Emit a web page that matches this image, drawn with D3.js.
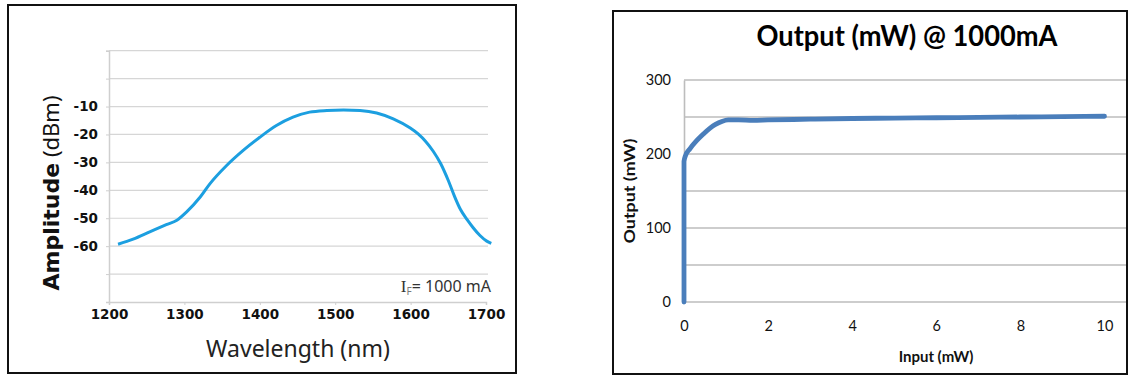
<!DOCTYPE html>
<html><head><meta charset="utf-8">
<script src="https://cdn.jsdelivr.net/npm/d3@7"></script>
<style>
html,body{margin:0;padding:0;background:#fff;}
svg{display:block;}
</style></head>
<body>
<svg id="chart" width="1134" height="379"></svg>
<script>
// ---- Left chart data: spectrum ----
const wavelength = [1212, 1232, 1254, 1276, 1290, 1303, 1321, 1334, 1356, 1378, 1400, 1422, 1444, 1466, 1489, 1511, 1533, 1555, 1577, 1599, 1610, 1620, 1630, 1640, 1650, 1658, 1666, 1675, 1683, 1692, 1701, 1707];
const amplitude = [-59.3, -57.5, -54.9, -52.3, -50.7, -47.7, -42.4, -37.6, -31.1, -25.7, -21.0, -16.8, -13.8, -12.0, -11.4, -11.2, -11.4, -12.3, -14.4, -17.6, -19.8, -22.5, -26.0, -30.5, -36.5, -42.0, -46.8, -50.5, -53.4, -56.2, -58.2, -59.0];
const wlTicks = [1200, 1300, 1400, 1500, 1600, 1700];
const ampTicks = [10, 0, -10, -20, -30, -40, -50, -60, -70, -80];
const ampTickLabels = ["", "", "-10", "-20", "-30", "-40", "-50", "-60", "", ""];

// ---- Right chart data: output vs input ----
const inputMW = [0, 0, 0.03, 0.14, 0.3, 0.46, 0.62, 0.75, 0.9, 1.05, 1.3, 1.64, 2, 3, 4, 5, 6, 7, 8, 9, 10];
const outputMW = [0, 190, 197, 207, 218, 227, 235, 240, 244, 246, 246, 245.5, 246, 247, 248, 248.5, 249, 249.5, 250, 250.5, 251];
const inTicks = [0, 2, 4, 6, 8, 10];
const outTicks = [0, 50, 100, 150, 200, 250, 300];
const outTickLabels = ["0", "", "100", "", "200", "", "300"];

const svg = d3.select("#chart");

// ================= LEFT PANEL =================
svg.append("rect").attr("x", 8).attr("y", 5).attr("width", 508).attr("height", 368)
  .attr("fill", "#fff").attr("stroke", "#111").attr("stroke-width", 2);

const xL = d3.scaleLinear().domain([1200, 1700]).range([109, 486]);
const yL = d3.scaleLinear().domain([-80, 10]).range([302, 50.7]);
const L = svg.append("g");

// gridlines
L.append("g").selectAll("line").data(ampTicks.filter(d => d > -80)).join("line")
  .attr("x1", xL(1200)).attr("x2", 488)
  .attr("y1", d => yL(d)).attr("y2", d => yL(d))
  .attr("stroke", "#d6d6d6").attr("stroke-width", 1.2);

// y axis
const yAxisL = d3.axisLeft(yL).tickValues(ampTicks).tickSize(3).tickPadding(8)
  .tickFormat((d, i) => ampTickLabels[i]);
const gyL = L.append("g").attr("transform", `translate(${xL(1200)},0)`).call(yAxisL);
gyL.select(".domain").attr("stroke", "#cfcfcf").attr("stroke-width", 1.5);
gyL.selectAll(".tick line").attr("stroke", "#cfcfcf");
gyL.selectAll(".tick text").attr("font-family", "DejaVu Sans").attr("font-weight", "bold")
  .attr("font-size", 13.5).attr("fill", "#111");

// x axis
const xAxisL = d3.axisBottom(xL).tickValues(wlTicks).tickSize(3).tickPadding(4).tickFormat(d3.format("d"));
const gxL = L.append("g").attr("transform", `translate(0,${yL(-80)})`).call(xAxisL);
gxL.select(".domain").attr("stroke", "#cfcfcf").attr("stroke-width", 1.5);
gxL.selectAll(".tick line").attr("stroke", "#cfcfcf");
gxL.selectAll(".tick text").attr("font-family", "DejaVu Sans").attr("font-weight", "bold")
  .attr("font-size", 13.5).attr("fill", "#111");

// curve
const lineL = d3.line().x((d, i) => xL(wavelength[i])).y((d, i) => yL(amplitude[i])).curve(d3.curveMonotoneX);
L.append("path").datum(amplitude).attr("d", lineL)
  .attr("fill", "none").attr("stroke", "#1c9fe0").attr("stroke-width", 3).attr("stroke-linejoin", "round");

// annotation
const ann = L.append("text").attr("x", 491).attr("y", 292).attr("text-anchor", "end")
  .attr("font-family", "Noto Sans").attr("font-size", 16).attr("fill", "#333");
ann.append("tspan").attr("font-family", "Liberation Serif").attr("font-size", 17).text("I");
ann.append("tspan").attr("font-size", 10).attr("dy", 3).attr("fill", "#777").text("F");
ann.append("tspan").attr("dy", -3).text("= 1000 mA");

// axis titles
L.append("text").attr("x", 298).attr("y", 357).attr("text-anchor", "middle")
  .attr("font-family", "Noto Sans").attr("font-size", 23).attr("fill", "#222")
  .text("Wavelength (nm)");
const yt = L.append("text").attr("transform", "translate(59,193) rotate(-90)").attr("text-anchor", "middle")
  .attr("fill", "#111");
yt.append("tspan").attr("font-family", "DejaVu Sans").attr("font-weight", "bold").attr("font-size", 22)
  .text("Amplitude");
yt.append("tspan").attr("font-family", "Noto Sans").attr("font-size", 22).text(" (dBm)");

// ================= RIGHT PANEL =================
svg.append("rect").attr("x", 613).attr("y", 11).attr("width", 514).attr("height", 363)
  .attr("fill", "#fff").attr("stroke", "#111").attr("stroke-width", 2);

const xR = d3.scaleLinear().domain([0, 10]).range([684, 1104.5]);
const yR = d3.scaleLinear().domain([0, 300]).range([302, 80]);
const R = svg.append("g");

R.append("g").selectAll("line").data(outTicks).join("line")
  .attr("x1", xR(0)).attr("x2", 1126)
  .attr("y1", d => yR(d)).attr("y2", d => yR(d))
  .attr("stroke", "#bdbdbd").attr("stroke-width", 1.6);

const yAxisR = d3.axisLeft(yR).tickValues(outTicks).tickSize(0).tickPadding(13)
  .tickFormat((d, i) => outTickLabels[i]);
const gyR = R.append("g").attr("transform", `translate(${xR(0)},0)`).call(yAxisR);
gyR.select(".domain").attr("stroke", "#bdbdbd").attr("stroke-width", 1.6);
gyR.selectAll(".tick text").attr("font-family", "Lato").attr("font-size", 14.5).attr("fill", "#111");

const xAxisR = d3.axisBottom(xR).tickValues(inTicks).tickSize(0).tickPadding(19).tickFormat(d3.format("d"));
const gxR = R.append("g").attr("transform", `translate(0,${yR(0)})`).call(xAxisR);
gxR.select(".domain").remove();
gxR.selectAll(".tick text").attr("font-family", "Lato").attr("font-size", 14.5).attr("fill", "#111");

const lineR = d3.line().x((d, i) => xR(inputMW[i])).y((d, i) => yR(outputMW[i])).curve(d3.curveMonotoneX);
R.append("path").datum(outputMW).attr("d", lineR)
  .attr("fill", "none").attr("stroke", "#4a7ebb").attr("stroke-width", 4.8)
  .attr("stroke-linejoin", "round").attr("stroke-linecap", "round");

R.append("text").attr("x", 907).attr("y", 46).attr("text-anchor", "middle")
  .attr("font-family", "Lato").attr("font-weight", "bold").attr("font-size", 28)
  .attr("textLength", 301).attr("lengthAdjust", "spacingAndGlyphs").attr("fill", "#000")
  .text("Output (mW) @ 1000mA");
R.append("text").attr("x", 936).attr("y", 362).attr("text-anchor", "middle")
  .attr("font-family", "Lato").attr("font-weight", "bold").attr("font-size", 15).attr("fill", "#111")
  .text("Input (mW)");
R.append("text").attr("transform", "translate(635,191) rotate(-90)").attr("text-anchor", "middle")
  .attr("font-family", "Lato").attr("font-weight", "bold").attr("font-size", 15)
  .attr("textLength", 105).attr("lengthAdjust", "spacingAndGlyphs").attr("fill", "#111")
  .text("Output (mW)");
</script>
</body></html>
